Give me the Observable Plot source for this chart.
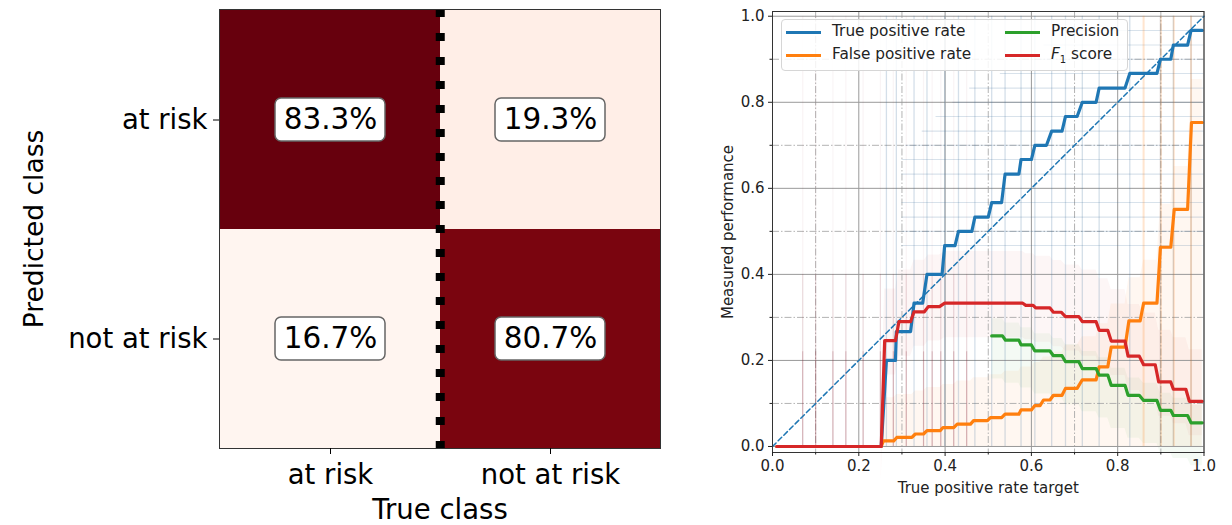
<!DOCTYPE html>
<html><head><meta charset="utf-8">
<script src="https://cdn.jsdelivr.net/npm/d3@7"></script>
<script src="https://cdn.jsdelivr.net/npm/@observablehq/plot@0.6"></script>
<style>
body{margin:0;background:#fff;font-family:"DejaVu Sans",sans-serif}
#wrap{position:relative;width:1232px;height:525px;overflow:hidden}
#left{position:absolute;left:0;top:0}
#right{position:absolute;left:700px;top:0}
#legend{position:absolute;left:781px;top:19px;width:345px;height:50px;border:1px solid #d6d6d6;border-radius:4px;background:rgba(255,255,255,0.85);font-size:15.3px;color:#222}
.sw{position:absolute;width:35px;height:3px}
.lt{position:absolute;line-height:1;white-space:nowrap}
</style>
</head><body>
<div id="wrap"><div id="left"></div><div id="right"></div><div id="legend"></div></div>
<script>
// ---------- confusion matrix data ----------
const classes = ["at risk", "not at risk"];
const trueClass = ["at risk", "not at risk", "at risk", "not at risk"];
const predClass = ["at risk", "at risk", "not at risk", "not at risk"];
const percents = [83.3, 19.3, 16.7, 80.7];

// ---------- performance curves: [xStart, xEnd, level] ----------
const tprSteps = [[0.01,0.252,0],[0.264,0.285,0.2],[0.287,0.32,0.267],[0.328,0.348,0.333],[0.358,0.393,0.4],[0.399,0.423,0.467],[0.431,0.462,0.5],[0.469,0.5,0.533],[0.508,0.531,0.567],[0.539,0.571,0.633],[0.576,0.6,0.667],[0.608,0.635,0.7],[0.647,0.671,0.733],[0.679,0.706,0.767],[0.718,0.75,0.8],[0.757,0.817,0.833],[0.828,0.891,0.867],[0.899,0.923,0.9],[0.929,0.962,0.933],[0.97,0.996,0.967]];
const fprSteps = [[0.01,0.252,0],[0.257,0.281,0.013],[0.288,0.323,0.021],[0.331,0.35,0.029],[0.358,0.389,0.037],[0.395,0.42,0.044],[0.428,0.459,0.052],[0.466,0.498,0.06],[0.505,0.531,0.067],[0.539,0.571,0.075],[0.576,0.6,0.085],[0.608,0.62,0.095],[0.628,0.643,0.108],[0.651,0.671,0.119],[0.679,0.706,0.135],[0.718,0.75,0.155],[0.757,0.777,0.185],[0.785,0.817,0.231],[0.826,0.852,0.292],[0.86,0.891,0.333],[0.899,0.923,0.463],[0.931,0.962,0.551],[0.971,0.996,0.753]];
const precisionSteps = [[0.508,0.533,0.257],[0.54,0.571,0.247],[0.576,0.6,0.236],[0.608,0.643,0.222],[0.651,0.671,0.211],[0.679,0.71,0.197],[0.718,0.75,0.181],[0.757,0.777,0.166],[0.785,0.817,0.142],[0.824,0.85,0.119],[0.86,0.891,0.107],[0.899,0.923,0.084],[0.929,0.962,0.072],[0.97,0.996,0.055]];
const f1Steps = [[0.01,0.252,0],[0.26,0.285,0.246],[0.293,0.32,0.29],[0.328,0.352,0.313],[0.361,0.387,0.325],[0.399,0.58,0.333],[0.587,0.604,0.328],[0.61,0.643,0.322],[0.651,0.669,0.312],[0.679,0.71,0.302],[0.718,0.75,0.29],[0.757,0.777,0.27],[0.785,0.817,0.245],[0.824,0.85,0.21],[0.86,0.887,0.19],[0.895,0.923,0.15],[0.929,0.958,0.133],[0.966,0.996,0.105]];
const diagonal = [[0,0],[1,1]];
// faint bootstrap traces (positions)
const f1TraceX = [0.07,0.10,0.14,0.17,0.21,0.25,0.28,0.31,0.35,0.37,0.39,0.42,0.45];
const f1TraceFade = [[0,0.22,0.38],[0.22,0.4,0.18],[0.4,1,0.05]]; // [from, to, opacity]
const fprTraceX = [0.86,0.9,0.93,0.97];

const majorTicks = [0,0.2,0.4,0.6,0.8,1.0];
const minorTicks = [0.1,0.3,0.5,0.7,0.9];

const colors = {tpr:"#1f77b4", fpr:"#ff7f0e", prec:"#2ca02c", f1:"#d62728"};
const legendItems = [
  {key:"tpr", label:"True positive rate", col:0, row:0},
  {key:"fpr", label:"False positive rate", col:0, row:1},
  {key:"prec", label:"Precision", col:1, row:0},
  {key:"f1", label:"<i>F</i><sub style=\"font-size:10px\">1</sub> score", col:1, row:1}
];

// ---------- left: confusion matrix ----------
const cells = percents.map((v, i) => ({t: trueClass[i], p: predClass[i], v}));
const LW = 700, LH = 525, LML = 219, LMR = 40, LMT = 9, LMB = 77;
const bandW = (LW - LML - LMR) / classes.length;
const left = Plot.plot({
  width: LW, height: LH, marginLeft: LML, marginRight: LMR, marginTop: LMT, marginBottom: LMB,
  x: {domain: classes, padding: 0},
  y: {domain: classes, padding: 0},
  color: {type: "linear", scheme: "reds", domain: [d3.min(percents), d3.max(percents)]},
  style: {fontFamily: "DejaVu Sans", fontSize: "27.5px", color: "#000", background: "transparent"},
  marks: [
    Plot.cell(cells, {x: "t", y: "p", fill: "v"}),
    Plot.ruleX([classes[1]], {x: d => d, dx: -bandW / 2, stroke: "#000", strokeWidth: 9, strokeDasharray: "8,16"}),
    Plot.cell(cells, {x: "t", y: "p", fill: "white", stroke: "#666", strokeWidth: 1.5, rx: 6,
      insetLeft: 55, insetRight: 55, insetTop: 88, insetBottom: 88}),
    Plot.text(cells, {x: "t", y: "p", text: d => d.v.toFixed(1) + "%", fontSize: 29.5, fill: "#000"}),
    Plot.frame({stroke: "#333"}),
    Plot.axisX({tickSize: 6, tickPadding: 10, fontSize: 27.5, label: "True class", labelArrow: "none", labelAnchor: "center", labelOffset: 70}),
    Plot.axisY({tickSize: 6, tickPadding: 6, fontSize: 27.5, label: null}),
    Plot.axisY({ticks: [], tickSize: 0, fontSize: 26.5, label: "Predicted class", labelArrow: "none", labelAnchor: "center", labelOffset: 195})
  ]
});
document.getElementById("left").appendChild(left);

// ---------- right: performance vs target ----------
const toPts = (steps, key) => steps.flatMap(([x0, x1, y]) => [{x: x0, y, key}, {x: x1, y, key}]);
const tprPts = toPts(tprSteps, "tpr"), fprPts = toPts(fprSteps, "fpr"),
      precPts = toPts(precisionSteps, "prec"), f1Pts = toPts(f1Steps, "f1");
const tprRisers = tprSteps.slice(1).map(s => s[0]);
const tprLevels = tprSteps.filter(s => s[2] >= 0.45);

const right = Plot.plot({
  width: 532, height: 525, marginLeft: 72, marginRight: 28.5, marginTop: 11, marginBottom: 73,
  x: {domain: [0, 1]},
  y: {domain: [-0.014, 1.011]},
  style: {fontFamily: "DejaVu Sans", fontSize: "15px", color: "#222", background: "transparent"},
  marks: [
    // haze of bootstrap curves
    Plot.areaY(fprPts.filter(d => d.x > 0.03), {x: "x", y1: 0, y2: d => d.y + 0.1, fill: colors.fpr, fillOpacity: 0.06}),
    Plot.areaY(f1Pts.filter(d => d.x > 0.25), {x: "x", y1: d => d.y - 0.08, y2: d => d.y + 0.12, fill: colors.f1, fillOpacity: 0.045}),
    Plot.areaY(precPts, {x: "x", y1: d => d.y - 0.1, y2: d => d.y + 0.04, fill: colors.prec, fillOpacity: 0.05}),
    // grid
    Plot.ruleX(minorTicks, {stroke: "#aaa", strokeWidth: 0.9, strokeDasharray: "7,2,1.5,2"}),
    Plot.ruleY(minorTicks, {stroke: "#aaa", strokeWidth: 0.9, strokeDasharray: "7,2,1.5,2"}),
    Plot.ruleX(majorTicks, {stroke: "#999", strokeWidth: 1}),
    Plot.ruleY(majorTicks, {stroke: "#999", strokeWidth: 1}),
    // faint traces
    Plot.ruleX(tprRisers, {y1: 0, y2: 1, stroke: "#3d6f99", strokeOpacity: 0.22, strokeWidth: 1.3}),
    Plot.ruleY(tprLevels, {y: d => d[2], x1: d => Math.max(0.3, d[0] - 0.3), x2: 1, stroke: "#3d6f99", strokeOpacity: 0.2, strokeWidth: 1.1}),
    ...f1TraceFade.map(([a, b, o]) => Plot.ruleX(f1TraceX, {y1: a, y2: b, stroke: "#8c2d3d", strokeOpacity: o, strokeWidth: 1.2})),
    Plot.ruleX(fprTraceX, {y1: 0, y2: 1, stroke: colors.fpr, strokeOpacity: 0.2, strokeWidth: 2}),
    // diagonal
    Plot.line(diagonal, {x: d => d[0], y: d => d[1], stroke: colors.tpr, strokeWidth: 1.5, strokeDasharray: "5,3"}),
    // main curves
    Plot.line(tprPts, {x: "x", y: "y", stroke: colors.tpr, strokeWidth: 3.2}),
    Plot.line(fprPts, {x: "x", y: "y", stroke: colors.fpr, strokeWidth: 3.2}),
    Plot.line(precPts, {x: "x", y: "y", stroke: colors.prec, strokeWidth: 3.2}),
    Plot.line(f1Pts, {x: "x", y: "y", stroke: colors.f1, strokeWidth: 3.2}),
    Plot.frame({stroke: "#333"}),
    Plot.axisX(majorTicks, {tickSize: 4, tickPadding: 4, tickFormat: d3.format(".1f"), fontSize: 15, label: "True positive rate target", labelArrow: "none", labelAnchor: "center", labelOffset: 40}),
    Plot.axisX(minorTicks, {tickSize: 2.5, tickFormat: () => "", label: null}),
    Plot.axisY(majorTicks, {tickSize: 4, tickPadding: 4, tickFormat: d3.format(".1f"), fontSize: 15, label: "Measured performance", labelArrow: "none", labelAnchor: "center", labelOffset: 50}),
    Plot.axisY(minorTicks, {tickSize: 2.5, tickFormat: () => "", label: null})
  ]
});
document.getElementById("right").appendChild(right);

// ---------- legend ----------
const lg = document.getElementById("legend");
for (const it of legendItems) {
  const sx = it.col === 0 ? 4 : 223, ty = it.row === 0 ? 12 : 35;
  const sw = document.createElement("div");
  sw.className = "sw"; sw.style.left = sx + "px"; sw.style.top = (ty - 1.5) + "px"; sw.style.background = colors[it.key];
  lg.appendChild(sw);
  const t = document.createElement("div");
  t.className = "lt"; t.style.left = (sx + 46) + "px"; t.style.top = (ty - 8) + "px"; t.innerHTML = it.label;
  lg.appendChild(t);
}
</script>
</body></html>
